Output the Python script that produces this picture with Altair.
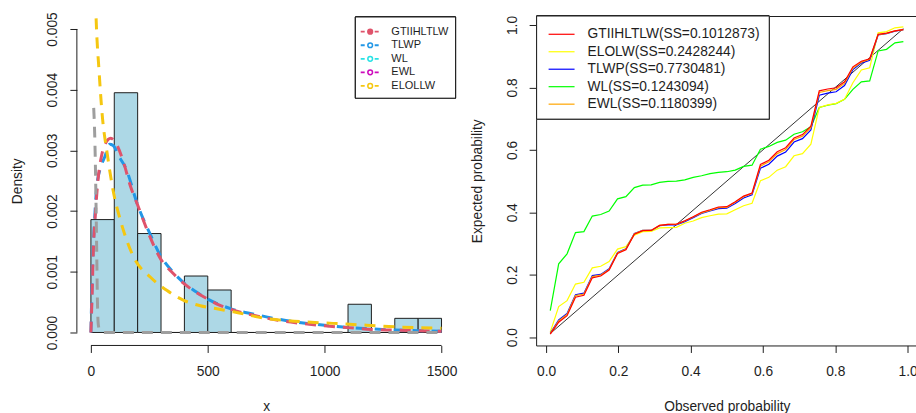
import altair as alt
import pandas as pd

FONT = "Liberation Sans"
INK = "#1e1e1e"
FS = 13.8

# ---------------- left panel data ----------------
bin_start = [0, 100, 200, 300, 400, 500, 600, 700, 800, 900, 1000, 1100, 1200, 1300, 1400]
bin_end = [100, 200, 300, 400, 500, 600, 700, 800, 900, 1000, 1100, 1200, 1300, 1400, 1500]
hist_density = [0.00186, 0.00395, 0.00163, 0.0, 0.00093, 0.00070, 0.0, 0.0, 0.0, 0.0,
                0.0, 0.000465, 0.0, 0.000233, 0.000233]

gt_x = [0, 5, 10, 20, 30, 45, 60, 85, 110, 140, 170, 200, 250, 300, 350, 400, 450, 500,
        550, 600, 700, 800, 900, 1000, 1100, 1200, 1300, 1400, 1500]
gt_y = [0.0, 0.0006, 0.0013, 0.0020, 0.0025, 0.0029, 0.0031, 0.0032, 0.0031, 0.0028,
        0.0024, 0.0021, 0.0016, 0.0012, 0.00098, 0.00080, 0.00066, 0.00055, 0.00045,
        0.00038, 0.00028, 0.00020, 0.00015, 0.00011, 0.00008, 0.00005, 0.00004,
        0.00003, 0.00002]

tlwp_x = [0, 3, 8, 15, 25, 40, 60, 80, 95, 120, 150, 200, 250, 300, 350, 400, 450, 500,
          550, 600, 700, 800, 900, 1000, 1100, 1200, 1300, 1400, 1500]
tlwp_y = [0.0, 0.0005, 0.0012, 0.0018, 0.0024, 0.0027, 0.0029, 0.0031, 0.00308, 0.0029,
          0.0027, 0.0021, 0.00165, 0.00125, 0.0010, 0.00081, 0.00067, 0.00055, 0.00046,
          0.00039, 0.00030, 0.00022, 0.00016, 0.00012, 0.00008, 0.00006, 0.00004,
          0.00003, 0.00002]

elollw_x = [17, 24, 34, 48, 70, 98, 127, 183, 255, 326, 397, 468, 539, 610, 752, 894,
            1036, 1178, 1320, 1500]
elollw_y = [0.0058, 0.0050, 0.00436, 0.0036, 0.00294, 0.00228, 0.00184, 0.00124, 0.00091,
            0.00069, 0.00053, 0.00044, 0.00039, 0.00034, 0.00023, 0.00018, 0.00015,
            0.00012, 0.00009, 0.00007]

gray_x = [12, 16, 19, 22, 25, 28, 32, 40, 60, 1500]
gray_y = [0.0037, 0.0033, 0.0028, 0.0021, 0.0013, 0.0005, 0.00012, 0.00002, 0.0, 0.0]

left_xticks = [0, 500, 1000, 1500]
left_yticks = [0.0, 0.001, 0.002, 0.003, 0.004, 0.005]

left_labels = ["GTIIHLTLW", "TLWP", "WL", "EWL", "ELOLLW"]
left_colors = ["#DF536B", "#2297E6", "#28E2E5", "#CD0BBC", "#F5C710"]
left_fill = ["#DF536B", "white", "white", "white", "white"]

# ---------------- right panel data ----------------
obs = [0.0116, 0.0349, 0.0581, 0.0814, 0.1047, 0.1279, 0.1512, 0.1744, 0.1977, 0.2209,
       0.2442, 0.2674, 0.2907, 0.3140, 0.3372, 0.3605, 0.3837, 0.4070, 0.4302, 0.4535,
       0.4767, 0.5000, 0.5233, 0.5465, 0.5698, 0.5930, 0.6163, 0.6395, 0.6628, 0.6860,
       0.7093, 0.7326, 0.7558, 0.7791, 0.8023, 0.8256, 0.8488, 0.8721, 0.8953, 0.9186,
       0.9419, 0.9651, 0.9884]

exp_gt = [0.010, 0.048, 0.069, 0.128, 0.134, 0.190, 0.196, 0.215, 0.268, 0.280, 0.330,
          0.341, 0.342, 0.358, 0.361, 0.362, 0.373, 0.386, 0.400, 0.408, 0.417, 0.418,
          0.434, 0.452, 0.462, 0.553, 0.567, 0.594, 0.607, 0.638, 0.649, 0.676, 0.789,
          0.795, 0.799, 0.818, 0.866, 0.884, 0.892, 0.970, 0.974, 0.981, 0.985]
exp_el = [0.016, 0.098, 0.117, 0.170, 0.176, 0.222, 0.227, 0.242, 0.282, 0.290, 0.327,
          0.338, 0.339, 0.350, 0.351, 0.352, 0.365, 0.372, 0.383, 0.389, 0.394, 0.395,
          0.408, 0.421, 0.429, 0.501, 0.512, 0.535, 0.546, 0.581, 0.588, 0.618, 0.736,
          0.744, 0.749, 0.762, 0.815, 0.856, 0.863, 0.975, 0.979, 0.991, 0.994]
exp_tl = [0.012, 0.055, 0.076, 0.136, 0.141, 0.197, 0.201, 0.219, 0.271, 0.283, 0.332,
          0.342, 0.342, 0.357, 0.360, 0.360, 0.370, 0.383, 0.396, 0.404, 0.412, 0.413,
          0.428, 0.446, 0.456, 0.541, 0.554, 0.580, 0.593, 0.625, 0.636, 0.664, 0.775,
          0.782, 0.786, 0.806, 0.857, 0.878, 0.887, 0.968, 0.972, 0.980, 0.985]
exp_wl = [0.085, 0.235, 0.267, 0.335, 0.338, 0.388, 0.393, 0.404, 0.443, 0.450, 0.479,
          0.487, 0.488, 0.496, 0.499, 0.500, 0.504, 0.512, 0.517, 0.524, 0.528, 0.530,
          0.535, 0.547, 0.551, 0.602, 0.611, 0.624, 0.631, 0.650, 0.658, 0.674, 0.736,
          0.743, 0.748, 0.762, 0.794, 0.818, 0.821, 0.917, 0.922, 0.943, 0.947]
exp_ew = [0.011, 0.052, 0.073, 0.133, 0.138, 0.194, 0.199, 0.217, 0.270, 0.282, 0.331,
          0.342, 0.342, 0.358, 0.361, 0.361, 0.372, 0.385, 0.398, 0.406, 0.415, 0.416,
          0.432, 0.450, 0.460, 0.548, 0.562, 0.588, 0.601, 0.633, 0.644, 0.671, 0.784,
          0.790, 0.794, 0.813, 0.862, 0.881, 0.890, 0.969, 0.973, 0.981, 0.985]

diag = [0.0116, 0.9884]
right_ticks = [0.0, 0.2, 0.4, 0.6, 0.8, 1.0]

right_labels = ["GTIIHLTLW(SS=0.1012873)", "ELOLW(SS=0.2428244)", "TLWP(SS=0.7730481)",
                "WL(SS=0.1243094)", "EWL(SS=0.1180399)"]
right_colors = ["#FF0000", "#FFFF00", "#0000FF", "#00FF00", "#FFA500"]

# ---------------- geometry / styling ----------------
LW, LH = 379.3, 330
RW, RH = 382, 330


def axis(values, fmt, orient, title, tx, ty):
    common = dict(values=values, format=fmt, domain=False, grid=False, ticks=True,
                  tickSize=7, tickColor=INK, tickWidth=1, labelFont=FONT, labelFontSize=FS,
                  labelColor=INK, labelOverlap=False, labelFlush=False, labelBound=False,
                  title=title, titleFont=FONT, titleFontSize=FS, titleFontWeight="normal",
                  titleColor=INK, titleX=tx, titleY=ty, titleBaseline="middle",
                  titleAlign="center")
    if orient == "x":
        return alt.Axis(labelBaseline="top", labelAlign="center", labelPadding=12,
                        labelAngle=0, **common)
    return alt.Axis(labelBaseline="alphabetic", labelAlign="center", labelPadding=13,
                    labelAngle=270, titleAngle=270, **common)


# ================= LEFT PANEL =================
xs_l = alt.Scale(domain=[-60, 1560], nice=False, zero=False)
ys_l = alt.Scale(domain=[-0.000214, 0.005214], nice=False, zero=False)
xax_l = axis(left_xticks, "d", "x", "x", LW / 2, 61)
yax_l = axis(left_yticks, ".3f", "y", "Density", -59.7, LH / 2)

hist_df = pd.DataFrame({"x0": bin_start, "x1": bin_end, "d": hist_density})
bars = alt.Chart(hist_df).mark_rect(fill="#ADD8E6", stroke=INK, strokeWidth=1).encode(
    x=alt.X("x0:Q", scale=xs_l, axis=xax_l, title="x"),
    x2="x1:Q",
    y=alt.Y("d:Q", scale=ys_l, axis=yax_l, title="Density"),
    y2=alt.datum(0),
)


def curve(xv, yv, color):
    df = pd.DataFrame({"x": xv, "y": yv})
    return alt.Chart(df).mark_line(color=color, strokeWidth=3, strokeDash=[11, 8],
                                   clip=True, interpolate="monotone").encode(
        x=alt.X("x:Q", scale=xs_l, axis=xax_l, title="x"),
        y=alt.Y("y:Q", scale=ys_l, axis=yax_l, title="Density"),
    )


c_tlwp = curve(tlwp_x, tlwp_y, "#2297E6")
c_gt = curve(gt_x, gt_y, "#DF536B")
c_gray = curve(gray_x, gray_y, "#9E9E9E")
c_el = curve(elollw_x, elollw_y, "#F5C710")

axl_df = pd.DataFrame({"a": [left_xticks[0]], "b": [left_xticks[-1]],
                       "lo": [left_yticks[0]], "hi": [left_yticks[-1]]})
xline_l = alt.Chart(axl_df).mark_rule(color=INK, strokeWidth=1).encode(
    x=alt.X("a:Q", scale=xs_l, axis=xax_l, title="x"), x2="b:Q", y=alt.value(LH))
yline_l = alt.Chart(axl_df).mark_rule(color=INK, strokeWidth=1).encode(
    y=alt.Y("lo:Q", scale=ys_l, axis=yax_l, title="Density"), y2="hi:Q", x=alt.value(0))

main_l = alt.layer(bars, c_tlwp, c_gt, c_gray, c_el, xline_l, yline_l)

leg_l_df = pd.DataFrame({"row": list(range(len(left_labels))), "label": left_labels,
                         "col": left_colors, "fill": left_fill})
ry_l = alt.Y("row:Q", scale=alt.Scale(domain=[0, 4], range=[15.7, 70]), axis=None)
leg_l_box = alt.Chart(leg_l_df).mark_rect(fill="white", stroke=INK, strokeWidth=1).encode(
    x=alt.value(279), x2=alt.value(LW), y=alt.value(1), y2=alt.value(82.3))
leg_l_line = alt.Chart(leg_l_df).mark_rule(strokeWidth=1.8, strokeDash=[4, 3]).encode(
    x=alt.value(284.3), x2=alt.value(303.3), y=ry_l,
    color=alt.Color("col:N", scale=None, legend=None))
leg_l_pt = alt.Chart(leg_l_df).mark_point(shape="circle", size=22, strokeWidth=1.5,
                                          opacity=1).encode(
    x=alt.value(293.8), y=ry_l,
    stroke=alt.Stroke("col:N", scale=None, legend=None),
    fill=alt.Fill("fill:N", scale=None, legend=None))
leg_l_txt = alt.Chart(leg_l_df).mark_text(align="left", baseline="middle", font=FONT,
                                          fontSize=11, color=INK).encode(
    x=alt.value(315), y=ry_l, text="label:N")
legend_l = alt.layer(leg_l_box, leg_l_line, leg_l_pt, leg_l_txt)

left = alt.layer(main_l, legend_l).resolve_scale(y="independent").properties(
    width=LW, height=LH)

# ================= RIGHT PANEL =================
xs_r = alt.Scale(domain=[-0.0275, 1.0275], nice=False, zero=False)
ys_r = alt.Scale(domain=[-0.0266, 1.0288], nice=False, zero=False)
xax_r = axis(right_ticks, ".1f", "x", "Observed probability", 191, 61)
yax_r = axis(right_ticks, ".1f", "y", "Expected probability", -58.5, RH / 2)


def pp(yv, color, xv=obs):
    df = pd.DataFrame({"o": xv, "e": yv})
    return alt.Chart(df).mark_line(color=color, strokeWidth=1.2).encode(
        x=alt.X("o:Q", scale=xs_r, axis=xax_r, title="Observed probability"),
        y=alt.Y("e:Q", scale=ys_r, axis=yax_r, title="Expected probability"),
    )


l_diag = pp(diag, "#000000", diag).mark_line(color="#000000", strokeWidth=0.8)
l_wl = pp(exp_wl, "#00FF00")
l_el = pp(exp_el, "#FFFF00")
l_tl = pp(exp_tl, "#0000FF")
l_ew = pp(exp_ew, "#FFA500")
l_gt = pp(exp_gt, "#FF0000")

main_r = alt.layer(l_diag, l_wl, l_el, l_tl, l_ew, l_gt)

leg_r_df = pd.DataFrame({"row": list(range(len(right_labels))), "label": right_labels,
                         "col": right_colors})
ry_r = alt.Y("row:Q", scale=alt.Scale(domain=[0, 4], range=[18.3, 88.3]), axis=None)
leg_r_box = alt.Chart(leg_r_df).mark_rect(fill="white", stroke=INK, strokeWidth=1).encode(
    x=alt.value(0.5), x2=alt.value(233.5), y=alt.value(0), y2=alt.value(103.3))
leg_r_line = alt.Chart(leg_r_df).mark_rule(strokeWidth=1.2).encode(
    x=alt.value(12.5), x2=alt.value(38.5), y=ry_r,
    color=alt.Color("col:N", scale=None, legend=None))
leg_r_txt = alt.Chart(leg_r_df).mark_text(align="left", baseline="middle", font=FONT,
                                          fontSize=FS, color=INK).encode(
    x=alt.value(51.5), y=ry_r, text="label:N")
legend_r = alt.layer(leg_r_box, leg_r_line, leg_r_txt)

right = alt.layer(main_r, legend_r).resolve_scale(y="independent").properties(
    width=RW, height=RH, view=alt.ViewBackground(stroke=INK, strokeWidth=1))

chart = alt.hconcat(left, right, spacing=80, bounds="flush").properties(
    padding={"left": 10, "top": 10.7, "right": -2.5, "bottom": 0},
    background="white",
).configure_view(stroke=None)

chart.save("out.html", embed_options={"renderer": "svg", "actions": False})
